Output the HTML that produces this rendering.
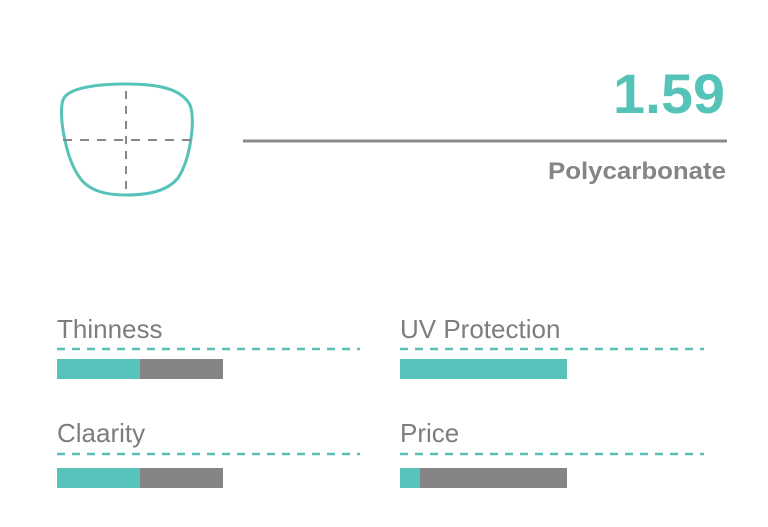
<!DOCTYPE html>
<html><head><meta charset="utf-8"><style>
html,body{margin:0;padding:0;background:#fff;}
svg{display:block;}
text{font-family:"Liberation Sans",sans-serif;}
</style></head><body>
<svg width="768" height="527" viewBox="0 0 768 527" xmlns="http://www.w3.org/2000/svg">
<path d="M63,100 C68,86 105,84 126,84 C150,84 180,86 190,105 C196,120 190,160 178,178 C165,194 140,195 126,195 C108,195 88,192 78,175 C66,157 58,115 63,100 Z" fill="none" stroke="#55c3b8" stroke-width="3"/>
<line x1="63" y1="140" x2="191" y2="140" stroke="#888" stroke-width="2" stroke-dasharray="9 8"/>
<line x1="126" y1="91" x2="126" y2="190" stroke="#888" stroke-width="2" stroke-dasharray="8 7"/>
<text x="613" y="113" textLength="112" lengthAdjust="spacingAndGlyphs" font-size="56" font-weight="bold" fill="#55c3b8">1.59</text>
<line x1="243" y1="141" x2="727" y2="141" stroke="#8a8a8a" stroke-width="3"/>
<text x="548" y="179" textLength="178" lengthAdjust="spacingAndGlyphs" font-size="24" font-weight="bold" fill="#858585">Polycarbonate</text>
<g font-size="26" fill="#7d7d7d">
<text x="57" y="338">Thinness</text>
<text x="400" y="338">UV Protection</text>
<text x="57" y="442">Claarity</text>
<text x="400" y="442">Price</text>
</g>
<g stroke="#5cbfb5" stroke-width="2.5" stroke-dasharray="8 7">
<line x1="57" y1="349" x2="360" y2="349"/>
<line x1="400" y1="349" x2="704" y2="349"/>
<line x1="57" y1="454" x2="360" y2="454"/>
<line x1="400" y1="454" x2="704" y2="454"/>
</g>
<rect x="57" y="359" width="166" height="20" fill="#848486"/>
<rect x="57" y="359" width="83" height="20" fill="#58c3bb"/>
<rect x="400" y="359" width="167" height="20" fill="#58c3bb"/>
<rect x="57" y="468" width="166" height="20" fill="#848486"/>
<rect x="57" y="468" width="83" height="20" fill="#58c3bb"/>
<rect x="400" y="468" width="167" height="20" fill="#848486"/>
<rect x="400" y="468" width="20" height="20" fill="#58c3bb"/>
</svg>
</body></html>
